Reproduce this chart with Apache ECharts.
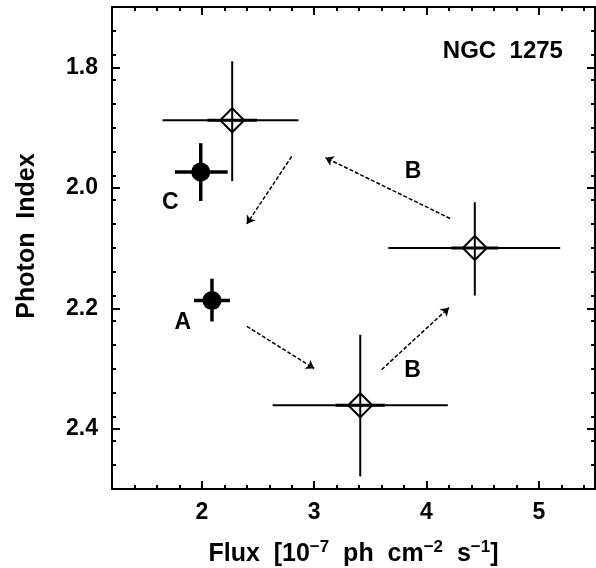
<!DOCTYPE html>
<html>
<head>
<meta charset="utf-8">
<script src="https://cdn.jsdelivr.net/npm/echarts@6/dist/echarts.min.js"></script>
<style>
  html, body { margin: 0; background: #fff; }
  #main { width: 596px; height: 568px; }
</style>
</head>
<body>
<div id="main"></div>
<script>
'use strict';
// open diamonds (flux, photon index, total error and statistical error in flux)
var fluxSat = [2.27, 4.43, 3.41];
var indexSat = [1.888, 2.100, 2.361];
var fluxSatLo = [1.65, 3.66, 2.63];
var fluxSatHi = [2.86, 5.19, 4.19];
var indexSatLo = [1.790, 2.024, 2.244];
var indexSatHi = [1.989, 2.179, 2.479];
var fluxStatLo = [2.05, 4.22, 3.19];
var fluxStatHi = [2.49, 4.64, 3.63];

// filled circles
var fluxFill = [1.99, 2.09];
var indexFill = [1.974, 2.187];
var fluxFillLo = [1.76, 1.93];
var fluxFillHi = [2.23, 2.25];
var indexFillLo = [1.926, 2.151];
var indexFillHi = [2.022, 2.222];

// dashed arrows (start -> end)
var arrowX0 = [2.80, 4.21, 2.40, 3.60];
var arrowY0 = [1.948, 2.051, 2.230, 2.302];
var arrowX1 = [2.40, 3.10, 3.00, 4.20];
var arrowY1 = [2.060, 1.950, 2.300, 2.199];

// text labels in the plot
var noteText = ['NGC  1275', 'B', 'C', 'A', 'B'];
var noteX = [4.68, 3.88, 1.72, 1.83, 3.875];
var noteY = [1.773, 1.974, 2.024, 2.224, 2.303];

// ticks
var xTicks = [2, 3, 4, 5];
var yTicks = [1.8, 2.0, 2.2, 2.4];
var xMinor = [], yMinor = [];
for (var k = 0; k <= 21; k++) xMinor.push(+(1.2 + k * 0.2).toFixed(2));
for (var j = 1; j <= 19; j++) yMinor.push(+(1.7 + j * 0.04).toFixed(2));

var FONT = 'Liberation Sans';

var dom = document.getElementById('main');
var myChart = echarts.init(dom);

function xAxisDef(pos, ticks, len, labels) {
    return {
        type: 'value', position: pos, min: 1.2, max: 5.5,
        axisLine: { show: true, onZero: false, lineStyle: { color: '#000', width: 2 } },
        axisTick: { show: true, inside: true, length: len, customValues: ticks, lineStyle: { color: '#000', width: 2 } },
        axisLabel: labels ? {
            show: true, customValues: xTicks, margin: 12, color: '#000',
            fontFamily: FONT, fontWeight: 'bold', fontSize: 23
        } : { show: false },
        splitLine: { show: false }
    };
}
function yAxisDef(pos, ticks, len, labels) {
    return {
        type: 'value', position: pos, min: 1.7, max: 2.5, inverse: true,
        axisLine: { show: true, onZero: false, lineStyle: { color: '#000', width: 2 } },
        axisTick: { show: true, inside: true, length: len, customValues: ticks, lineStyle: { color: '#000', width: 2 } },
        axisLabel: labels ? {
            show: true, customValues: yTicks, margin: 14, color: '#000',
            fontFamily: FONT, fontWeight: 'bold', fontSize: 23,
            formatter: function (v) { return v.toFixed(1); }
        } : { show: false },
        splitLine: { show: false }
    };
}

var xMain = xAxisDef('bottom', xTicks, 8, true);
xMain.name = 'Flux  [10{sup|−7}  ph  cm{sup|−2}  s{sup|−1}]';
xMain.nameLocation = 'middle';
xMain.nameGap = 50;
xMain.nameTextStyle = {
    color: '#000', fontFamily: FONT, fontWeight: 'bold', fontSize: 25,
    rich: { sup: { fontFamily: FONT, fontWeight: 'bold', fontSize: 17, color: '#000', padding: [0, 0, 13, 0] } }
};
var yMain = yAxisDef('left', yTicks, 8, true);
yMain.name = 'Photon  Index';
yMain.nameLocation = 'middle';
yMain.nameGap = 72;
yMain.nameTextStyle = { color: '#000', fontFamily: FONT, fontWeight: 'bold', fontSize: 25, padding: [0, 0, 0, 24] };

var satData = fluxSat.map(function (x, i) {
    return [x, indexSat[i], fluxSatLo[i], fluxSatHi[i], indexSatLo[i], indexSatHi[i], fluxStatLo[i], fluxStatHi[i]];
});
var fillData = fluxFill.map(function (x, i) {
    return [x, indexFill[i], fluxFillLo[i], fluxFillHi[i], indexFillLo[i], indexFillHi[i]];
});
var noteData = noteText.map(function (t, i) {
    return [noteX[i], noteY[i], i];
});

function seg(a, b, w) {
    return { type: 'line', shape: { x1: a[0], y1: a[1], x2: b[0], y2: b[1] }, style: { stroke: '#000', lineWidth: w } };
}

var option = {
    backgroundColor: '#fff',
    animation: false,
    grid: { left: 112, right: 1, top: 7, bottom: 79, containLabel: false, outerBoundsMode: 'none' },
    xAxis: [
        xMain,
        xAxisDef('bottom', xMinor, 4, false),
        xAxisDef('top', xTicks, 8, false),
        xAxisDef('top', xMinor, 4, false)
    ],
    yAxis: [
        yMain,
        yAxisDef('left', yMinor, 4, false),
        yAxisDef('right', yTicks, 8, false),
        yAxisDef('right', yMinor, 4, false)
    ],
    series: [
        {
            // open diamonds with error bars
            type: 'custom',
            xAxisIndex: 0, yAxisIndex: 0,
            data: satData,
            encode: { x: 0, y: 1 },
            renderItem: function (params, api) {
                var x = api.value(0), y = api.value(1);
                var c = api.coord([x, y]);
                var r = 12;
                return {
                    type: 'group',
                    children: [
                        seg(api.coord([api.value(2), y]), api.coord([api.value(3), y]), 2),
                        seg(api.coord([x, api.value(4)]), api.coord([x, api.value(5)]), 2),
                        seg(api.coord([api.value(6), y]), api.coord([api.value(7), y]), 3),
                        {
                            type: 'polygon',
                            shape: { points: [[c[0], c[1] - r], [c[0] + r, c[1]], [c[0], c[1] + r], [c[0] - r, c[1]]] },
                            style: { fill: 'none', stroke: '#000', lineWidth: 2 }
                        }
                    ]
                };
            }
        },
        {
            // filled circles with error bars
            type: 'custom',
            xAxisIndex: 0, yAxisIndex: 0,
            data: fillData,
            encode: { x: 0, y: 1 },
            renderItem: function (params, api) {
                var x = api.value(0), y = api.value(1);
                var c = api.coord([x, y]);
                return {
                    type: 'group',
                    children: [
                        seg(api.coord([api.value(2), y]), api.coord([api.value(3), y]), 3.5),
                        seg(api.coord([x, api.value(4)]), api.coord([x, api.value(5)]), 3.5),
                        { type: 'circle', shape: { cx: c[0], cy: c[1], r: 9.5 }, style: { fill: '#000' } }
                    ]
                };
            }
        },
        {
            type: 'lines',
            coordinateSystem: 'cartesian2d',
            xAxisIndex: 0, yAxisIndex: 0,
            symbol: ['none', 'arrow'],
            symbolSize: 8,
            lineStyle: { color: '#000', width: 1.5, type: [4, 2], opacity: 1 },
            data: arrowX0.map(function (x, i) {
                return { coords: [[x, arrowY0[i]], [arrowX1[i], arrowY1[i]]] };
            })
        },
        {
            // text notes
            type: 'custom',
            xAxisIndex: 0, yAxisIndex: 0,
            data: noteData,
            encode: { x: 0, y: 1 },
            renderItem: function (params, api) {
                var c = api.coord([api.value(0), api.value(1)]);
                var i = api.value(2);
                return {
                    type: 'text',
                    x: c[0], y: c[1],
                    style: {
                        text: noteText[i], fill: '#000',
                        font: 'bold ' + (i === 0 ? 24 : 23) + 'px "' + FONT + '"',
                        align: 'center', verticalAlign: 'middle'
                    }
                };
            }
        }
    ]
};

if (option && typeof option === 'object') {
    myChart.setOption(option, true);
}
</script>
</body>
</html>
